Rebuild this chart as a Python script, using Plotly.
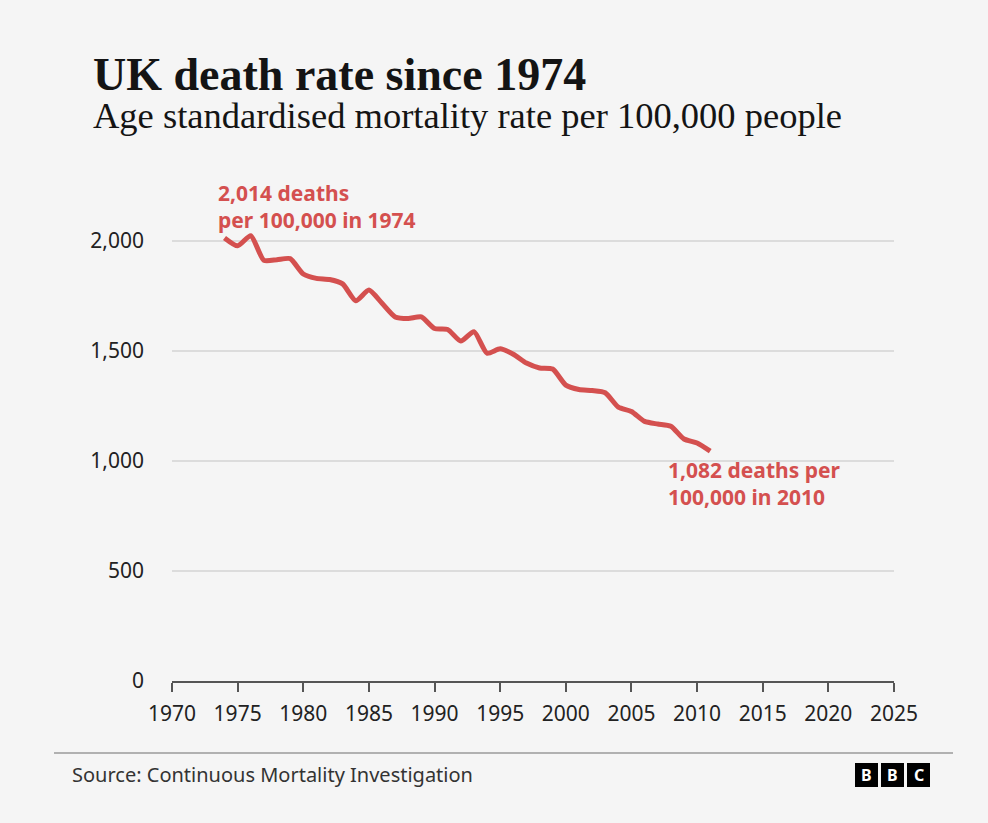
import plotly.graph_objects as go

years = list(range(1974, 2012))
death_rate = [2014, 1978, 2024, 1912, 1915, 1920, 1850, 1830, 1825, 1805,
              1728, 1777, 1717, 1655, 1648, 1655, 1602, 1598, 1545, 1588,
              1490, 1510, 1485, 1445, 1423, 1418, 1345, 1325, 1320, 1310,
              1245, 1225, 1180, 1168, 1158, 1100, 1082, 1045]

x_ticks = list(range(1970, 2026, 5))
y_ticks = [0, 500, 1000, 1500, 2000]

title = "UK death rate since 1974"
subtitle = "Age standardised mortality rate per 100,000 people"
source = "Source: Continuous Mortality Investigation"
start_label = "2,014 deaths<br>per 100,000 in 1974"
end_label = "1,082 deaths per<br>100,000 in 2010"

RED = "#d4504f"
BG = "#f5f5f5"
SANS = "Noto Sans"
SERIF = "Liberation Serif"

L, T, W, H = 172, 219, 722, 462   # plot area in pixels


def px(x):
    return (x - L) / W


def py(y):
    return (T + H - y) / H


fig = go.Figure()
fig.add_trace(go.Scatter(
    x=years, y=death_rate, mode="lines",
    line=dict(color=RED, width=5, shape="spline", smoothing=0.6),
    hoverinfo="x+y", showlegend=False,
))

fig.update_layout(
    width=988, height=823,
    paper_bgcolor=BG, plot_bgcolor=BG,
    margin=dict(l=L, r=988 - L - W, t=T, b=823 - T - H),
    separators=".,",
    showlegend=False,
    xaxis=dict(
        range=[1970, 2025], tickvals=x_ticks, ticktext=[str(v) for v in x_ticks],
        showgrid=False, zeroline=False,
        showline=True, linecolor="#555555", linewidth=2,
        ticks="outside", ticklen=9, tickwidth=2, tickcolor="#555555",
        ticklabelstandoff=4,
        tickfont=dict(family=SANS, size=21, color="#222222"),
    ),
    yaxis=dict(
        range=[0, 2100], tickvals=y_ticks, tickformat=",",
        showgrid=True, gridcolor="#dcdcdc", gridwidth=2,
        zeroline=False, showline=False, ticks="",
        ticklabelstandoff=27,
        tickfont=dict(family=SANS, size=21, color="#222222"),
    ),
)

# title & subtitle
fig.add_annotation(text=f"<b>{title}</b>", xref="paper", yref="paper",
                   x=px(91), y=py(74), xanchor="left", yanchor="middle",
                   showarrow=False, font=dict(family=SERIF, size=46, color="#141414"))
fig.add_annotation(text=subtitle, xref="paper", yref="paper",
                   x=px(91), y=py(116), xanchor="left", yanchor="middle",
                   showarrow=False, font=dict(family=SERIF, size=36.5, color="#141414"))

# data labels
fig.add_annotation(text=f"<b>{start_label}</b>", x=years[0], y=death_rate[0],
                   xanchor="left", yanchor="middle", align="left",
                   xshift=-9, yshift=31,
                   showarrow=False, font=dict(family=SANS, size=21, color=RED))
fig.add_annotation(text=f"<b>{end_label}</b>", x=years[-2], y=death_rate[-2],
                   xanchor="left", yanchor="middle", align="left",
                   xshift=-31, yshift=-41,
                   showarrow=False, font=dict(family=SANS, size=21, color=RED))

# footer
fig.add_shape(type="line", xref="paper", yref="paper",
              x0=px(54), x1=px(953), y0=py(753), y1=py(753),
              line=dict(color="#9a9a9a", width=1.5))
fig.add_annotation(text=source, xref="paper", yref="paper",
                   x=px(70), y=py(774), xanchor="left", yanchor="middle",
                   showarrow=False, font=dict(family=SANS, size=20, color="#333333"))

# BBC blocks
for i, letter in enumerate("BBC"):
    x0 = 855 + i * 26
    fig.add_shape(type="rect", xref="paper", yref="paper",
                  x0=px(x0), x1=px(x0 + 23), y0=py(787), y1=py(763),
                  fillcolor="#000000", line=dict(width=0))
    fig.add_annotation(text=f"<b>{letter}</b>", xref="paper", yref="paper",
                       x=px(x0 + 11.5), y=py(775),
                       xanchor="center", yanchor="middle", showarrow=False,
                       font=dict(family=SANS, size=16, color="#ffffff"))

fig.write_html("out.html", config={"displayModeBar": False},
               post_script="document.body.style.margin='0';")
